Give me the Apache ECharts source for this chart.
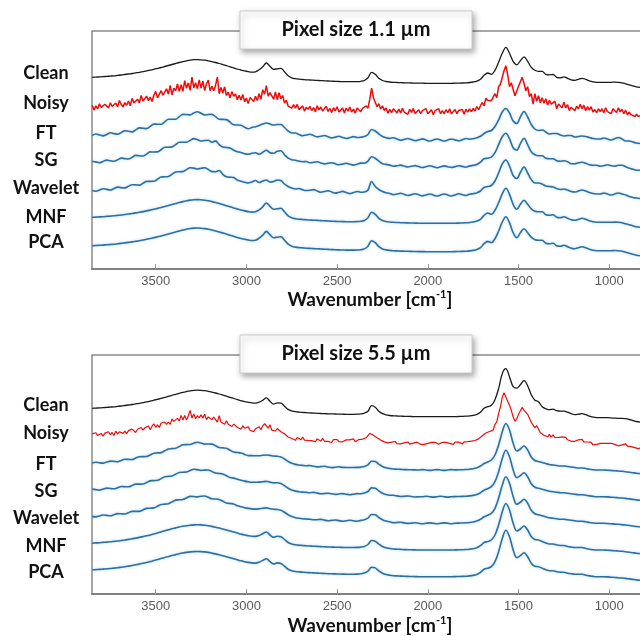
<!DOCTYPE html>
<html>
<head>
<meta charset="utf-8">
<script src="https://cdn.jsdelivr.net/npm/echarts@6/dist/echarts.min.js"></script>
<style>
html,body{margin:0;padding:0;background:#fff;}
#chart{width:640px;height:636px;}
</style>
</head>
<body>
<div id="chart"></div>
<script>
// ---- sampling grids (cm^-1) ----
const N20 = 152, N10 = 303;
const wn20 = []; for (let i = 0; i < N20; i++) wn20.push(3850 - 20 * i);
const wn10 = []; for (let i = 0; i < N10; i++) wn10.push(3850 - 10 * i);

const traceNames = ['Clean', 'Noisy', 'FT', 'SG', 'Wavelet', 'MNF', 'PCA'];
const panelTitles = ['Pixel size 1.1 µm', 'Pixel size 5.5 µm'];
const xTicks = [1000, 1500, 2000, 2500, 3000, 3500];
// vertical stacking offsets of the traces (a.u.)
const offsetsTop = [185.7, 157.3, 129, 102.3, 74, 45.7, 17.3];
const offsetsBot = [177.3, 150.7, 124, 97.3, 70.7, 44, 17.3];

// ---------- Pixel size 1.1 um ----------
const cleanTop = [
6.0,6.2,6.4,6.6,6.9,7.2,7.5,7.9,8.3,8.8,
9.3,9.8,10.4,11.0,11.7,12.4,13.2,14.0,14.9,15.8,
16.8,17.8,18.8,19.8,20.8,21.7,22.5,23.2,23.6,23.7,
23.5,23.1,22.5,21.7,20.8,19.8,18.7,17.6,16.5,15.4,
14.3,13.3,12.4,11.7,11.2,11.5,13.5,16.5,20.3,17.0,
14.0,14.5,15.0,11.5,7.5,5.5,4.6,4.1,3.8,3.5,
3.3,3.1,2.9,2.7,2.5,2.3,2.1,1.9,1.8,1.7,
1.6,1.6,1.6,1.7,2.0,2.8,5.5,11.0,9.0,5.0,
2.8,1.8,1.3,1.0,0.8,0.6,0.5,0.4,0.3,0.2,
0.1,0.1,0,0,0,0,0,0,0,0,
0.1,0.2,0.3,0.5,0.8,1.3,2.2,4.0,8.0,10.3,
9.0,13.0,21.0,30.0,36.0,30.0,22.0,18.5,22.5,26.5,
22.0,16.0,13.0,12.0,12.0,9.0,8.5,8.8,6.0,5.5,
6.5,5.0,3.5,3.0,4.0,5.0,4.0,2.5,1.5,1.0,
1.0,1.0,1.0,1.0,1.2,1.0,0.5,-0.5,-1.5,-2.5,
-3.5,-4.0];
const noisyTop = [
6.5,1.6,5.8,2.9,8.0,4.2,2.3,7.5,5.6,3.8,
9.0,5.2,3.4,8.7,4.9,11.2,7.4,4.8,9.1,6.4,
10.7,6.0,13.3,8.7,7.1,12.5,8.9,16.3,10.7,9.2,
15.6,11.1,14.6,10.2,16.7,20.3,13.8,13.4,21.0,16.6,
15.2,22.9,17.5,26.2,16.8,23.4,21.0,27.7,20.3,26.9,
20.4,31.0,23.5,28.9,21.3,34.6,23.9,29.0,23.0,31.9,
23.7,30.5,21.2,27.9,31.5,21.0,25.4,20.9,26.3,34.7,
18.0,24.3,18.6,24.9,16.2,19.5,13.8,20.1,15.4,17.7,
12.0,16.4,11.8,17.3,9.8,13.5,8.2,14.1,15.0,10.2,
15.5,11.2,18.0,12.5,22.0,17.5,26.0,15.5,19.0,19.7,
12.5,19.7,12.0,19.0,13.0,16.2,8.5,11.5,5.5,7.5,
3.5,7.0,3.6,7.3,2.1,3.9,5.8,0.6,4.5,2.4,
5.3,1.2,4.1,0,5.9,1.8,4.7,0.6,2.5,5.4,
0.3,3.2,-0.9,4.0,0.9,4.9,-0.2,1.8,3.7,-1.4,
3.6,0.6,4.6,-0.4,2.6,-1.4,3.7,1.8,0,3.4,
1.8,5.8,3.5,12.5,23.5,14.0,12.5,5.0,8.0,2.8,
5.8,1.2,3.8,-1.5,2.3,-0.9,3.0,0.9,-1.2,2.7,
-1.4,3.5,-0.5,1.5,-2.6,2.4,-0.7,3.3,-1.8,0.2,
2,-2,1,-1,3,-2,0,2,-3,1,
-1,3,-2,1,-2,2,-1,3,-2,0,
2.1,-1.9,1.2,-0.8,2.3,-2.6,2.5,-0.4,2.8,0,
3.3,0.7,5.2,2.0,6.0,9.0,6.0,13.5,11.3,12.8,
11,9,18,14,25,27.5,27,41,46,37,
25,29,28,16,16.5,25.5,25.5,34.5,28.5,21,
25,15,18,7.5,18,10.5,16,9,14,8.5,
13,6.7,11.5,7.6,6.8,10.4,3,7.7,6.5,4,
9.5,3.8,7,1.2,4.5,6.2,1,5.5,3,7.5,
3,6.5,1,5.2,1.5,5,-0.5,2.2,-1,3,
0,3,-1,4,0,2,-2,3,1.1,-0.8,
4,-0.2,2.5,-2,1.5,-3,-0.5,-3,-1.5,-5,
-2.5,-4.7,-4];
const ftTop = [
4.5,6.0,5.0,4.1,5.6,7.2,6.4,5.7,7.4,9.3,
8.7,8.1,10.1,12.1,11.7,11.4,13.6,15.9,15.8,15.8,
18.2,20.7,20.8,20.8,23.3,25.6,25.5,25.1,26.9,28.2,
26.7,25.0,25.5,25.6,23.3,20.8,20.6,20.4,17.8,15.2,
15.0,14.8,12.8,11.2,12.5,13.3,14.5,16.0,17.0,16.0,
15.0,15.5,15.5,12.5,9.0,7.0,7.0,5.5,4.2,5.0,
5.7,4.4,3.1,3.8,4.5,3.3,2.1,2.9,3.7,2.6,
1.5,2.4,3.4,2.5,2.8,3.5,5.5,10.5,9.0,6.0,
3.5,2.3,1.6,2.2,1.0,-0.2,0.6,1.5,0.4,-0.7,
0.2,1.1,0,-1,0,1,0,-1,0,1,
0.1,-0.8,0.3,1.5,0.8,1.3,2.2,3.8,6.5,8.5,
9.5,13.5,20,28,31.5,27,19,16.5,23,28.5,
23,15.5,11,9.5,10,8,6,6.5,6.5,5,
4,4.5,4.5,3,3.5,4,3.5,2.5,1.5,1,
1,2,1,0,1.3,2.5,1,-1,-1,-2,
-3,-3.5];
const sgTop = [
5.5,4.8,4.0,5.3,6.6,6.0,5.4,6.9,8.6,8.1,
7.7,9.3,11.3,10.9,10.7,12.6,14.8,14.7,14.8,17.0,
19.4,19.5,19.8,22.0,24.5,24.4,24.5,26.3,28.1,27.0,
25.7,26.2,26.5,24.4,25.8,22.0,19.6,19.2,18.8,16.4,
15.0,14.3,13.0,12.5,13.5,14.0,12.5,14.5,16.5,14.0,
13.5,15.5,16.0,12.0,8.5,7.0,6.5,5.5,5.0,5.2,
4.0,4.4,5.0,3.8,2.8,3.3,4.0,2.9,2.0,2.6,
3.4,2.4,1.6,2.5,3.6,3.5,5.5,10.0,8.5,5.5,
3.0,2.3,1.6,0.5,1.0,1.6,0.6,-0.3,0.4,1.1,
0.2,-0.8,0,1,0,-1,0,0.8,0,-0.8,
0.1,1.0,0.3,-0.5,0.8,1.3,2.2,4.5,8.0,8.5,
9.5,14,22,30,33.5,28,19,16.5,23,28.5,
22,15,12,11,11,8.5,8,8,6,5.5,
6,5,3,3,4,4.5,3.5,2,1.5,1.5,
0.5,1,2,1,0.5,1.5,1.5,0,-1.5,-2.5,
-3.5,-3.5];
const wavTop = [
4.5,3.8,5.0,6.3,5.6,5.0,6.4,7.9,7.4,7.1,
8.7,10.3,10.1,9.9,11.7,13.6,13.6,13.7,15.8,18.0,
18.2,18.5,20.8,23.0,23.3,23.4,25.5,27.3,26.9,26.0,
26.7,27.2,25.5,23.4,23.3,24.5,20.6,18.2,17.8,17.4,
15.0,13.8,12.8,12.0,13.0,14.5,12.5,14.0,15.0,13.0,
13.5,15.0,14.5,11.0,8.5,7.0,6.0,6.5,5.2,4.5,
4.7,5.4,4.1,2.8,3.5,4.3,3.1,1.9,2.7,3.6,
2.5,1.4,2.4,3.5,2.8,3.0,5.0,13.5,8.5,5.5,
3.5,2.3,1.6,0.2,1.0,1.8,0.6,-0.5,0.4,1.3,
0.2,-0.9,0,1,0,-1,0,1,0,-1,
0.1,1.2,0.3,-0.5,0.8,1.3,2.2,4.0,7.5,8.5,
9.5,14,22,31,35,29,19.5,16.5,22.5,28,
22,15.5,12,12,11,9,8.5,8,6.5,5.5,
6,5,3.5,3,4,5,4,2.5,1.5,1,
1,2,1,0,1,2,1,0,-1.5,-2.5,
-3,-3.5];
// MNF and PCA read identical at this resolution
const mnfPcaTop = [
6.0,6.2,6.4,6.6,6.9,7.2,7.5,7.9,8.3,8.8,
9.3,9.8,10.4,11.0,11.7,12.4,13.2,14.0,14.9,15.8,
16.8,17.8,18.8,19.8,20.8,21.7,22.5,23.2,23.6,23.7,
23.5,23.1,22.5,21.7,20.8,19.8,18.7,17.6,16.5,15.4,
14.3,13.3,12.4,11.7,11.2,11.5,13.5,16.5,20.3,17.0,
14.0,14.5,15.0,11.5,7.5,5.5,4.6,4.1,3.8,3.5,
3.3,3.1,2.9,2.7,2.5,2.3,2.1,1.9,1.8,1.7,
1.6,1.6,1.6,1.7,2.0,2.8,5.5,11.0,9.0,5.0,
2.8,1.8,1.3,1.0,0.8,0.6,0.5,0.4,0.3,0.2,
0.1,0.1,0,0,0,0,0,0,0,0,
0.1,0.2,0.3,0.5,0.8,1.3,2.2,4.0,8.0,10.3,
9.0,13.0,20.5,29.5,35.0,29.0,19.0,14.0,19.0,23.0,
19.0,14.5,12.0,11.5,11.5,8.5,8.0,8.5,6.0,5.5,
6.5,5.0,3.5,3.0,4.0,5.0,4.0,2.5,1.5,1.0,
1.0,1.0,1.0,1.0,1.2,1.0,0.5,-0.5,-1.5,-2.5,
-3.5,-4.0];

// ---------- Pixel size 5.5 um ----------
const cleanBot = [
8.4,8.6,8.8,9.0,9.3,9.6,9.9,10.3,10.7,11.2,
11.7,12.2,12.8,13.4,14.1,14.8,15.6,16.5,17.4,18.3,
19.3,20.3,21.4,22.4,23.4,24.4,25.2,25.9,26.4,26.6,
26.4,26.0,25.4,24.6,23.7,22.7,21.6,20.5,19.4,18.2,
17.1,16.1,15.1,14.4,13.8,13.6,14.5,16.5,18.8,15.5,
12.6,13.8,13.5,10.5,7.3,5.8,5.0,4.6,4.3,4.0,
3.8,3.6,3.4,3.2,3.0,2.9,2.8,2.7,2.6,2.5,
2.4,2.4,2.4,2.5,2.8,3.6,5.5,11.0,9.5,5.5,
3.0,1.8,1.2,0.9,0.7,0.5,0.4,0.3,0.2,0.1,
0,0,0,0,0,0,0,0,0,0,
0.1,0.2,0.3,0.5,0.8,1.3,2.3,4.5,8.5,10.0,
11.5,17,28,43,48,40,30,28.5,32,36,
31,22,16.5,15,10,8,7,7.5,6,5.5,
5.5,4.5,3,2,2.5,3,2,0.5,-0.5,-1,
-1,-1,-1,-1.2,-1.5,-1.6,-1.6,-2,-2.8,-3.8,
-4.8,-5.5];
const noisyBot = [
9.4,7.5,10.6,7.7,8.8,9.9,7.0,10.2,8.3,11.5,
8.6,10.8,7.9,12.1,9.3,11.5,12.7,9.9,12.2,9.5,
12.7,11,14.2,12.5,10.8,14.1,12.4,15.8,13.1,15.5,
13.8,17.2,13.6,17.1,19.5,16,18.4,15.9,20.3,18.8,
21.3,18.8,21.3,18.9,24.4,21.9,20.4,24.9,22.4,27.9,
23.4,27.8,23.2,27.6,32.9,25.2,29.4,24.5,27.6,25.5,
28.4,25.2,29,23.7,26.4,27,23.6,26.2,24.7,21.2,
27.7,21.2,22.6,19.1,22.5,19,20.4,16.8,19.2,18.7,
16.1,17.6,14.1,17.6,15.1,13.8,16.4,13.1,14.8,11.7,
14.6,13,16.5,13.5,17.5,19.6,19.8,15.2,18.5,13.2,
14.8,12.3,14.8,15.7,11.5,13,9.5,9.9,6.3,7.5,
4.8,6.4,3,5.8,4.6,3.5,6.3,3.2,5,2.9,
4.8,2.7,4.6,1.5,4.4,3.3,2.2,5.1,2,4,
1.9,3.9,0.8,3.8,2.7,3.7,1.6,3.6,1.5,2.5,
3.4,1.4,3.4,1.4,4.4,1.5,2.5,3.7,1.8,4.2,
2.6,5.5,4.5,10,10.5,8,9,5.5,6.5,3.2,
4,1.4,2.8,0.5,2.2,1.1,-0.1,1.8,-0.3,1.6,
-0.5,1.5,0.4,-0.7,1.3,-0.8,1.2,0.2,-0.9,1.1,
0,-1,1,-1,1,0,-1,1,-1,1,
1,-1,0,1,-1,1,-1,0,1,-1,
1.1,-0.9,1.2,0.3,-0.7,1.4,-0.5,1.7,-0.2,2.1,
0.3,2.8,1.3,4.4,4.5,7.5,7.5,10.3,10,11.8,
12.5,13.2,19,21.5,30,36.5,46,50.5,50,42,
38,33,26.5,22,24.5,29,31,36,33,35,
29,27.5,21,22,15.5,17.8,16,10.5,11,8,
9,6.5,9,6.2,8.5,5.8,7,5.8,4.5,6.5,
4.5,6,3.5,4.8,2,3.5,2,1.3,3.5,1.8,
4,1.5,3,1.3,-0.5,1,-1.5,0.2,-1,-2,
0,-2,0,-1,0,-2,0,-2,-1.1,-0.2,
-2.5,-0.6,-1.6,-2.6,-0.6,-2.8,-1,-3.4,-1.8,-4.3,
-2.8,-5.3,-4.8];
const ftBot = [
6.9,7.8,7.3,6.9,7.9,8.9,8.6,8.3,9.5,10.7,
10.6,10.5,11.9,13.3,13.4,13.5,15.1,16.8,17.1,17.4,
19.2,21.0,21.4,21.8,23.5,25.2,25.4,25.5,26.8,27.8,
27.0,25.9,26.0,25.9,24.3,22.5,22.1,21.7,19.8,17.9,
17.5,17.0,15.6,14.4,14.4,14.2,14.3,14.7,15.0,14.6,
14.0,13.8,13.0,11.0,8.5,6.7,5.6,5.0,4.6,4.3,
4.5,3.8,3.1,3.4,3.7,3.0,2.4,2.8,3.2,2.6,
2.5,2.5,2.5,2.6,2.9,3.6,5.2,8.8,8.5,5.8,
3.5,2.2,1.5,1.0,0.8,0.6,0.4,0.3,0.2,0.1,
0,0.4,0,-0.4,0,0.4,0,-0.4,0,0.4,
0.1,0.2,0.3,0.5,0.8,1.3,2.3,4.0,6.5,8.0,
10,15,25,38,46.5,40,27,19,21,24,
20,13,9.5,8.5,7.5,6.5,5.5,5,4.5,4,
4,3.5,3,2.5,2,2,1.5,0.8,0.3,0,
0,0,-0.2,-0.5,-0.8,-1,-1.3,-1.7,-2.2,-2.7,
-3.2,-3.5];
const sgBot = [
7.6,7.1,6.6,7.6,8.6,8.2,7.9,9.0,10.2,10.0,
9.9,11.2,12.6,12.6,12.7,14.2,15.8,16.1,16.4,18.1,
19.9,20.3,20.7,22.5,24.2,24.5,24.7,26.2,27.5,27.1,
26.3,26.6,26.7,25.2,23.6,23.2,22.8,21.0,19.1,18.6,
17.5,16.5,15.6,14.9,14.4,14.4,14.6,15.0,15.3,14.6,
13.8,14.0,13.2,11.0,8.5,6.7,5.6,5.0,4.6,4.3,
4.0,4.3,3.6,2.9,3.2,3.5,2.9,2.3,2.7,3.1,
2.5,2.0,2.5,3.1,2.9,3.6,5.2,8.8,8.5,5.8,
3.5,2.2,1.5,1.4,0.8,0.2,0.4,0.7,0.2,-0.3,
0,0,0.4,0,-0.4,0,0.4,0,-0.4,0,
0.1,0.2,0.3,0.5,0.8,1.3,2.3,4.0,6.5,8.0,
10,15,25,38,46.5,40,27,19,21,24,
20,13,9.5,8.5,7.5,6.5,5.5,5,4.5,4,
4,3.5,3,2.5,2,2,1.5,0.8,0.3,0,
0,0,-0.2,-0.5,-0.8,-1,-1.3,-1.7,-2.2,-2.7,
-3.2,-3.5];
const wavBot = [
6.9,6.4,7.3,8.3,7.9,7.5,8.6,9.7,9.5,9.3,
10.6,11.9,11.9,11.9,13.4,14.9,15.1,15.4,17.1,18.8,
19.2,19.6,21.4,23.2,23.5,23.8,25.4,26.9,26.8,26.4,
27.0,27.3,26.0,24.5,24.3,23.9,22.1,20.3,19.8,19.3,
17.5,16.5,15.6,14.9,14.4,14.2,14.5,15.0,15.4,14.6,
14.0,13.8,13.0,11.0,8.5,6.7,5.6,5.0,4.6,4.3,
4.0,3.5,3.6,3.9,3.2,2.5,2.9,3.3,2.7,2.1,
2.5,3.0,2.5,2.1,2.9,3.6,5.2,8.8,8.5,5.8,
3.5,2.2,1.5,0.6,0.8,1.0,0.4,-0.1,0.2,0.5,
0,-0.4,0,0.4,0,-0.4,0,0.4,0,-0.4,
0.1,0.2,0.3,0.5,0.8,1.3,2.3,4.0,6.5,8.0,
10,15,25,38,46.5,40,27,19,21,24,
20,13,9.5,8.5,7.5,6.5,5.5,5,4.5,4,
4,3.5,3,2.5,2,2,1.5,0.8,0.3,0,
0,0,-0.2,-0.5,-0.8,-1,-1.3,-1.7,-2.2,-2.7,
-3.2,-3.5];
const mnfPcaBot = [
6.9,7.1,7.3,7.6,7.9,8.2,8.6,9.0,9.5,10.0,
10.6,11.2,11.9,12.6,13.4,14.2,15.1,16.1,17.1,18.1,
19.2,20.2,21.2,22.1,23.0,23.7,24.3,24.8,25.1,25.2,
25.1,24.8,24.3,23.6,22.8,21.9,20.9,19.9,18.9,17.9,
16.9,15.9,15.0,14.3,13.8,13.6,14.5,16.3,18.0,15.0,
12.8,13.8,13.3,10.5,7.5,6.0,5.2,4.8,4.5,4.2,
4.0,3.8,3.6,3.4,3.2,3.0,2.9,2.8,2.7,2.6,
2.5,2.5,2.5,2.6,2.9,3.6,5.5,9.5,8.8,5.8,
3.5,2.2,1.5,1.0,0.8,0.6,0.4,0.3,0.2,0.1,
0,0,0,0,0,0,0,0,0,0,
0.1,0.2,0.3,0.5,0.8,1.3,2.3,4.3,7.5,8.5,
10,15,25,38,46.5,40,27,19,21,24,
20,13.5,10.5,10,8.5,7,6,6,5,4.5,
4.5,3.5,3,2.5,2.5,2.5,1.5,0.8,0.3,0,
0,0,-0.2,-0.5,-0.8,-1,-1.3,-1.7,-2.2,-2.7,
-3.2,-3.5];

// ---- sanity check of lengths ----
const checks = {cleanTop, ftTop, sgTop, wavTop, mnfPcaTop, cleanBot, ftBot, sgBot, wavBot, mnfPcaBot};
for (const k in checks) if (checks[k].length !== N20) throw new Error(k + ' has ' + checks[k].length);
if (noisyTop.length !== N10) throw new Error('noisyTop has ' + noisyTop.length);
if (noisyBot.length !== N10) throw new Error('noisyBot has ' + noisyBot.length);

// ---- styles ----
const BLUE = '#2f6f9f', RED = '#f00a0a', BLACK = '#1a1a1a';
const FONT = 'Lato, "Open Sans", sans-serif';
const redWidths = [1.5, 1.2];

function lineSeries(gi, xs, vals, off, kind) {
  const style = kind === 'clean' ? {color: BLACK, width: 1.3}
             : kind === 'noisy' ? {color: RED, width: redWidths[gi]}
             : {color: BLUE, width: 1.6, shadowColor: 'rgba(110,185,235,0.55)', shadowBlur: 3};
  return {
    type: 'line', xAxisIndex: gi, yAxisIndex: gi,
    data: xs.map((w, i) => [w, off + vals[i]]),
    showSymbol: false, symbol: 'none',
    smooth: kind === 'noisy' ? false : 0.35,
    lineStyle: style, silent: true, animation: false, z: kind === 'noisy' ? 3 : 2
  };
}

const panels = [
  {off: offsetsTop, data: [cleanTop, noisyTop, ftTop, sgTop, wavTop, mnfPcaTop, mnfPcaTop]},
  {off: offsetsBot, data: [cleanBot, noisyBot, ftBot, sgBot, wavBot, mnfPcaBot, mnfPcaBot]}
];
const kinds = ['clean', 'noisy', 'blue', 'blue', 'blue', 'blue', 'blue'];
const series = [];
panels.forEach((p, gi) => {
  p.data.forEach((vals, k) => {
    series.push(lineSeries(gi, kinds[k] === 'noisy' ? wn10 : wn20, vals, p.off[k], kinds[k]));
  });
});

const gridTops = [31, 355];
const gridHeights = [238, 239];
const grids = gridTops.map((t, i) => ({
  left: 92, top: t, width: 608, height: gridHeights[i],
  outerBoundsMode: 'none', containLabel: false,
  show: true, borderColor: '#8a8a8a', borderWidth: 1.5, backgroundColor: 'transparent'
}));
const xAxes = [0, 1].map(i => ({
  gridIndex: i, type: 'value', inverse: true, min: 500, max: 3851, interval: 500,
  axisLine: {show: true, lineStyle: {color: '#808080', width: 2}},
  axisTick: {show: true, inside: true, length: 5, lineStyle: {color: '#9a9a9a', width: 1}},
  axisLabel: {color: '#5a5a5a', fontSize: 13, fontFamily: '"Liberation Sans", Arial, sans-serif', margin: 6,
    showMaxLabel: false,
    formatter: v => (xTicks.indexOf(v) >= 0 ? String(v) : '')},
  splitLine: {show: false}
}));
const yAxes = [0, 1].map(i => ({gridIndex: i, type: 'value', min: 0, max: gridHeights[i], show: false}));

// ---- text / boxes ----
const labelYTop = [73.3, 103.3, 133.3, 160, 187.7, 216.7, 241.7];
const labelYBot = [405, 433.3, 464, 490.7, 518.3, 546, 571.7];
const graphic = [];
[labelYTop, labelYBot].forEach(ys => {
  ys.forEach((y, k) => graphic.push({
    type: 'text', x: 46, y: y, z: 50,
    style: {text: traceNames[k], textAlign: 'center', textVerticalAlign: 'middle',
      font: 'bold 18px ' + FONT, fill: '#111'}
  }));
});

const boxTops = [11, 335];
boxTops.forEach((bt, i) => {
  graphic.push({type: 'rect', z: 100, shape: {x: 240, y: bt, width: 232, height: 38},
    style: {fill: '#fff', stroke: '#cccccc', lineWidth: 1,
      shadowBlur: 6, shadowOffsetX: 2, shadowOffsetY: 3, shadowColor: 'rgba(0,0,0,0.35)'}});
  graphic.push({type: 'text', z: 101, x: 356, y: bt + 19,
    style: {text: panelTitles[i], textAlign: 'center', textVerticalAlign: 'middle',
      font: 'bold 20px ' + FONT, fill: '#111'}});
});
[300, 626].forEach(y => {
  graphic.push({type: 'text', z: 101, x: 370, y: y,
    style: {text: '{a|Wavenumber [cm}{s|-1}{a|]}', textAlign: 'center', textVerticalAlign: 'middle',
      fill: '#111',
      rich: {
        a: {fontFamily: FONT, fontWeight: 'bold', fontSize: 19, lineHeight: 22, fill: '#111'},
        s: {fontFamily: FONT, fontWeight: 'bold', fontSize: 11, lineHeight: 22, verticalAlign: 'top', fill: '#111'}
      }}});
});

const chart = echarts.init(document.getElementById('chart'), null, {renderer: 'canvas'});
chart.setOption({
  animation: false,
  backgroundColor: '#fff',
  grid: grids, xAxis: xAxes, yAxis: yAxes,
  series: series,
  graphic: graphic
});
</script>
</body>
</html>
